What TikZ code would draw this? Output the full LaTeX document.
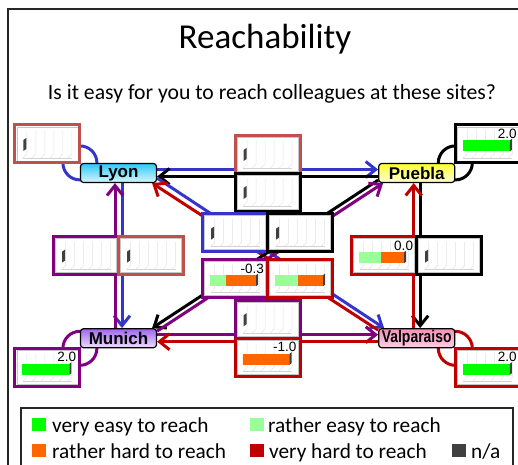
\documentclass[tikz,border=0pt]{standalone}
\usepackage{fontspec}
\setmainfont{Carlito}
\newfontfamily\sitefont{Liberation Sans}
\newfontfamily\valfont{Liberation Sans}
\usetikzlibrary{calc, arrows.meta, positioning, backgrounds}
\definecolor{lyonblue}{HTML}{3535CC}
\definecolor{lyonred}{HTML}{C0504D}
\definecolor{munichpurple}{HTML}{800080}
\definecolor{valpored}{HTML}{C00000}
\definecolor{veryeasy}{HTML}{00FF00}
\definecolor{rathereasy}{HTML}{99FF99}
\definecolor{ratherhard}{HTML}{FF6600}
\definecolor{veryhard}{HTML}{C00000}
\definecolor{nagray}{HTML}{404040}
\definecolor{lyontop}{HTML}{2EC8F7}
\definecolor{lyonbot}{HTML}{D8F6FF}
\definecolor{pueblatop}{HTML}{FFFF33}
\definecolor{pueblabot}{HTML}{FFFFD6}
\definecolor{munichtop}{HTML}{A066EE}
\definecolor{munichbot}{HTML}{EEDDFF}
\definecolor{valpotop}{HTML}{F590B8}
\definecolor{valpobot}{HTML}{FCD0E2}
\tikzset{
  site/.style 2 args={
    rectangle, rounded corners=3pt, draw=black, line width=1.2pt,
    top color=#1, bottom color=#2, minimum width=76pt, minimum height=19pt,
    inner sep=0pt, font=\sitefont\bfseries\fontsize{17}{17}\selectfont
  },
  panel/.style={
    rectangle, draw=#1, line width=3pt, fill=white,
    minimum width=65pt, minimum height=38pt, inner sep=0pt, outer sep=0pt,
    path picture={
      \draw[gray!45, line width=0.6pt]
        ([shift={(2,2)}]path picture bounding box.north west) rectangle
        ([shift={(-2,-2)}]path picture bounding box.south east);
      \foreach \gx in {12,21,30,39,48,57}
        \draw[gray!22, line width=0.5pt]
          ([shift={(\gx,5)}]path picture bounding box.north west) -- ++(0,24) -- ++(-4,4);
      \draw[gray!35, line width=0.5pt]
        ([shift={(8,33)}]path picture bounding box.north west) -- ++(49,0);
    }
  },
  link/.style={line width=3pt, draw=#1, -{Straight Barb[length=10pt, width=16pt]}},
  selfloop/.style={line width=3pt, draw=#1},
  legsq/.style={minimum width=14pt, minimum height=13pt, inner sep=0pt, fill=#1, anchor=south west},
  legtext/.style={anchor=base west, inner sep=0pt, font=\fontsize{21.3}{25}\selectfont},
  vallabel/.style={anchor=north east, inner sep=0pt, font=\valfont\fontsize{13.5}{14}\selectfont},
}
% small black bar for "n/a"
\newcommand{\nabar}[1]{%
  \fill[nagray] ([shift={(8.5,15)}]#1.north west) -- ++(3,-2) -- ++(0,11) -- ++(-3,2) -- cycle;}
% stacked bar: panel, colour, length, colour, length, value
\newcommand{\ratingbar}[6]{%
  \fill[#2] ([shift={(7.5,15.5)}]#1.north west) rectangle ++(#3,11);
  \fill[#4] ([shift={(7.5+#3,15.5)}]#1.north west) rectangle ++(#5,11);
  \fill[nagray] ([shift={(7.5+#3+#5,15.5)}]#1.north west) -- ++(2,-1.5) -- ++(0,11) -- ++(-2,1.5) -- cycle;
  \node[vallabel] at ([shift={(-3.5,4)}]#1.north east) {#6};}

\begin{document}
\begin{tikzpicture}[x=1pt, y=-1pt, node distance=145pt and 221pt]
  \useasboundingbox (0,0) rectangle (518,464);
  \clip (0,0) rectangle (518,464);

  \draw[line width=1.2pt, black!85] (8,9) rectangle (540,490);
  \node[font=\fontsize{35}{42}\selectfont, anchor=base] (title) at (265,48) {Reachability};
  \node[font=\fontsize{21.7}{25}\selectfont, anchor=base] (question) at (272,99)
    {Is it easy for you to reach colleagues at these sites?};

  % sites
  \node[site={lyontop}{lyonbot}] (lyon) at (118.5,173) {Lyon};
  \node[site={pueblatop}{pueblabot}, right=of lyon] (pue) {Puebla};
  \node[site={munichtop}{munichbot}, below=of lyon] (mun) {Munich};
  \node[site={valpotop}{valpobot}, right=of mun] (val) {\scalebox{0.82}[1]{Valparaiso}};

  \coordinate (lp) at ($(lyon)!.5!(pue)$);
  \coordinate (lm) at ($(lyon)!.5!(mun)$);
  \coordinate (pv) at ($(pue)!.5!(val)$);
  \coordinate (mv) at ($(mun)!.5!(val)$);
  \coordinate (mid) at ($(lyon)!.5!(val)$);

  % panels
  \node[panel=lyonred, anchor=south east] (lyly) at (lyon.north west) {};
  \node[panel=black, anchor=south west] (pupu) at (pue.north east) {};
  \node[panel=munichpurple, anchor=north east] (mumu) at (mun.south west) {};
  \node[panel=valpored, anchor=north west] (vava) at (val.south east) {};

  \node[panel=lyonred, anchor=south] (lypu) at (lp) {};
  \node[panel=black, below=0pt of lypu] (puly) {};
  \node[panel=munichpurple, anchor=east] (muly) at (lm) {};
  \node[panel=lyonred, right=0pt of muly] (lymu) {};
  \node[panel=valpored, anchor=east] (vapu) at (pv) {};
  \node[panel=black, right=0pt of vapu] (puva) {};
  \node[panel=munichpurple, anchor=south] (muva) at (mv) {};
  \node[panel=valpored, below=0pt of muva] (vamu) {};

  \node[panel=lyonblue, anchor=south east] (lyva) at ([yshift=4pt]mid) {};
  \node[panel=black, right=0pt of lyva] (pumu) {};
  \node[panel=munichpurple, anchor=north east] (mupu) at ([yshift=-4pt]mid) {};
  \node[panel=valpored, right=0pt of mupu] (valy) {};

  \nabar{lyly} \nabar{lypu} \nabar{puly} \nabar{muly} \nabar{lymu}
  \nabar{puva} \nabar{muva} \nabar{lyva} \nabar{pumu}
  \ratingbar{pupu}{veryeasy}{47}{veryeasy}{0}{2.0}
  \ratingbar{mumu}{veryeasy}{47}{veryeasy}{0}{2.0}
  \ratingbar{vava}{veryeasy}{47}{veryeasy}{0}{2.0}
  \ratingbar{mupu}{rathereasy}{16}{ratherhard}{30}{-0.3}
  \ratingbar{valy}{rathereasy}{23}{ratherhard}{25}{}
  \ratingbar{vapu}{rathereasy}{22}{ratherhard}{23}{0.0}
  \ratingbar{vamu}{ratherhard}{0}{ratherhard}{47}{-1.0}

  % connectors behind everything
  \begin{scope}[on background layer]
    \draw[selfloop=lyonblue] (lyon.north west) circle[radius=17pt];
    \draw[selfloop=black] (pue.north east) circle[radius=17pt];
    \draw[selfloop=munichpurple] (mun.south west) circle[radius=17pt];
    \draw[selfloop=valpored] (val.south east) circle[radius=17pt];

    \draw[link=lyonblue] ([yshift=3.5pt]lyon.east) -- ([yshift=3.5pt]pue.west);
    \draw[link=black] ([yshift=-3.5pt]pue.west) -- ([yshift=-3.5pt]lyon.east);
    \draw[link=lyonblue] ([xshift=3.5pt]lyon.south) -- ([xshift=3.5pt]mun.north);
    \draw[link=munichpurple] ([xshift=-3.5pt]mun.north) -- ([xshift=-3.5pt]lyon.south);
    \draw[link=black] ([xshift=3.5pt]pue.south) -- ([xshift=3.5pt]val.north);
    \draw[link=valpored] ([xshift=-3pt]val.north) -- ([xshift=-3pt]pue.south);
    \draw[link=munichpurple] ([yshift=3.5pt]mun.east) -- ([yshift=3.5pt]val.west);
    \draw[link=valpored] ([yshift=-3.5pt]val.west) -- ([yshift=-3.5pt]mun.east);
    \draw[link=lyonblue] ([yshift=5pt]lyon.south east) -- ([xshift=6pt]val.north west);
    \draw[link=valpored] ([yshift=-2pt]val.north west) -- ([xshift=-5pt]lyon.south east);
    \draw[link=black] ([yshift=3pt]pue.south west) -- ([xshift=-5pt]mun.north east);
    \draw[link=munichpurple] ([yshift=-3pt]mun.north east) -- ([xshift=5pt]pue.south west);
  \end{scope}

  % legend
  \draw[line width=1.2pt, black!85] (21,408) rectangle (513,490);
  \node[legsq=veryeasy] (lgA) at (32,431) {};
  \node[legtext] (lgAt) at (52,432) {very easy to reach};
  \node[legsq=rathereasy] (lgB) at (250,431) {};
  \node[legtext] (lgBt) at (268,432) {rather easy to reach};
  \node[legsq=ratherhard] (lgC) at (32,457) {};
  \node[legtext] (lgCt) at (52,458) {rather hard to reach};
  \node[legsq=veryhard] (lgD) at (250,457) {};
  \node[legtext] (lgDt) at (269,458) {very hard to reach};
  \node[legsq=nagray] (lgE) at (452,457) {};
  \node[legtext] (lgEt) at (471,458) {n/a};
\end{tikzpicture}
\end{document}
